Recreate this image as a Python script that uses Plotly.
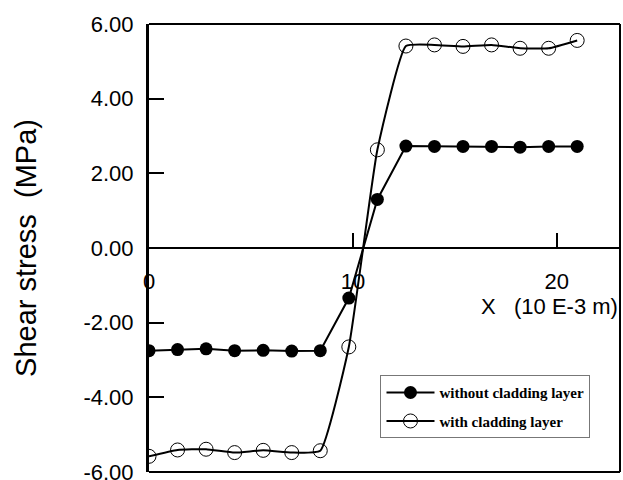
import plotly.graph_objects as go

x_pos = [0.0, 1.4, 2.8, 4.2, 5.6, 7.0, 8.4, 9.8, 11.2, 12.6, 14.0, 15.4, 16.8, 18.2, 19.6, 21.0]
without_layer = [-2.75, -2.72, -2.70, -2.75, -2.74, -2.76, -2.75, -1.34, 1.30,
                 2.73, 2.72, 2.72, 2.72, 2.70, 2.72, 2.72]
with_layer = [-5.58, -5.41, -5.39, -5.48, -5.42, -5.48, -5.43, -2.65, 2.63,
              5.41, 5.44, 5.40, 5.44, 5.35, 5.35, 5.56]
y_ticks = [-6, -4, -2, 0, 2, 4, 6]
y_tick_text = ["-6.00", "-4.00", "-2.00", "0.00", "2.00", "4.00", "6.00"]
x_ticks = [0, 10, 20]
x_tick_text = ["0", "10", "20"]

fig = go.Figure()
fig.add_trace(go.Scatter(
    x=x_pos, y=without_layer, mode="lines+markers", name="without cladding layer",
    legendgroup="a",
    line=dict(color="black", width=2),
    marker=dict(symbol="circle", size=13, color="black"),
))
fig.add_trace(go.Scatter(
    x=x_pos, y=with_layer, mode="lines+markers", name="with cladding layer",
    legendgroup="b",
    line=dict(color="black", width=2, shape="spline", smoothing=0.4),
    marker=dict(symbol="circle-open", size=14, color="black", line=dict(width=1)),
))

fig.update_layout(
    width=623, height=480,
    margin=dict(l=149, r=3, t=24, b=8, autoexpand=False),
    plot_bgcolor="white", paper_bgcolor="white",
    font=dict(family="Liberation Sans, Arial", color="black", size=22),
    showlegend=True,
    legend=dict(
        x=0.4915, y=0.216, xanchor="left", yanchor="top",
        bgcolor="white", bordercolor="#777", borderwidth=1,
        font=dict(family="Liberation Serif, Times New Roman", size=15, weight="bold"),
        tracegroupgap=6, itemwidth=48,
    ),
    xaxis=dict(
        range=[0, 23.1], anchor="free", position=0.5, automargin=False,
        tickmode="array", tickvals=x_ticks, ticktext=x_tick_text,
        ticks="inside", ticklen=14, tickwidth=2, tickcolor="black",
        showline=True, linecolor="black", linewidth=2,
        showgrid=False, zeroline=False,
        tickfont=dict(size=22), ticklabelstandoff=14,
    ),
    yaxis=dict(
        range=[-6, 6], automargin=False,
        tickmode="array", tickvals=y_ticks, ticktext=y_tick_text,
        ticks="inside", ticklen=15, tickwidth=2, tickcolor="black",
        showline=True, linecolor="black", linewidth=3,
        showgrid=False, zeroline=False,
        tickfont=dict(size=22), ticklabelstandoff=8, ticklabeloverflow="allow",
        title=dict(text="Shear stress  (MPa)", font=dict(size=29), standoff=39),
    ),
    shapes=[
        dict(type="line", xref="paper", yref="paper", x0=0, x1=1, y0=0, y1=0,
             line=dict(color="black", width=2), layer="above"),
        dict(type="line", xref="paper", yref="paper", x0=0, x1=1, y0=1, y1=1,
             line=dict(color="black", width=2), layer="above"),
        dict(type="line", xref="paper", yref="paper", x0=1, x1=1, y0=0, y1=1,
             line=dict(color="black", width=2), layer="above"),
    ],
    annotations=[dict(text="X   (10 E-3 m)", xref="paper", x=1.0, xanchor="right",
                      yref="y", y=-1.58, yanchor="middle", showarrow=False,
                      font=dict(size=22))],
)

fig.write_html(
    "out.html",
    config={"displayModeBar": False},
    post_script="document.body.style.margin='0';document.body.style.overflow='hidden';",
)
